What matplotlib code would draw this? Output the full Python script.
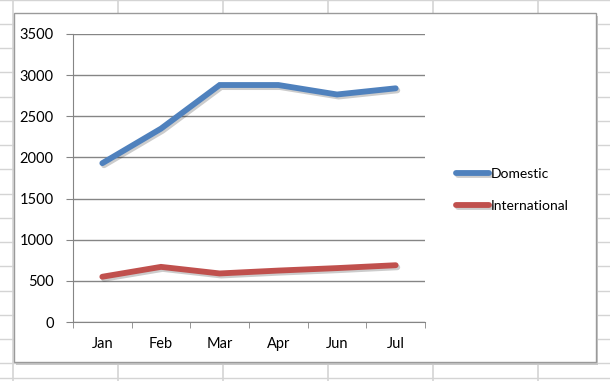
import matplotlib.pyplot as plt
import matplotlib.patheffects as pe
from matplotlib.lines import Line2D
from matplotlib.patches import Rectangle

months = ["Jan", "Feb", "Mar", "Apr", "Jun", "Jul"]
domestic = [1930, 2350, 2880, 2880, 2765, 2840]
international = [550, 670, 590, 625, 655, 690]
yticks = [0, 500, 1000, 1500, 2000, 2500, 3000, 3500]

W, H = 610, 381
fig = plt.figure(figsize=(W / 100, H / 100), dpi=100)
plt.rcParams['font.family'] = ['Lato', 'DejaVu Sans']

def fx(px):
    return px / W

def fy(py):
    return 1 - py / H

# spreadsheet cells behind the chart
grid_c = "#d4d4d4"
for x in [13, 118, 223, 328, 433, 538]:
    fig.add_artist(Line2D([fx(x), fx(x)], [0, 1], color=grid_c, lw=1.2, zorder=-3))
for y in [0, 24, 48, 72, 97, 121, 145, 169, 194, 218, 242, 266, 291, 315, 339, 363, 378]:
    fig.add_artist(Line2D([0, 1], [fy(y), fy(y)], color=grid_c, lw=1.0, zorder=-3))

# chart box
fig.add_artist(Rectangle((fx(16), fy(365)), fx(582), 349 / H, facecolor="#c8c8c8",
                         edgecolor="none", zorder=-2))
fig.add_artist(Rectangle((fx(14), fy(362)), fx(582), 349 / H, facecolor="white",
                         edgecolor="#9a9a9a", lw=1.0, zorder=-1))

ax = fig.add_axes([fx(73), fy(322), fx(425 - 73), (322 - 34) / H])
ax.set_facecolor("none")

x = range(len(months))
shadow = [pe.SimpleLineShadow(offset=(1.2, -1.5), shadow_color="#000000", alpha=0.2),
          pe.Normal()]
ax.plot(x, domestic, color="#4F81BD", lw=4.2, label="Domestic",
        solid_capstyle="round", solid_joinstyle="miter", path_effects=shadow)
ax.plot(x, international, color="#C0504D", lw=4.2, label="International",
        solid_capstyle="round", solid_joinstyle="miter", path_effects=shadow)

ax.set_xlim(-0.5, len(months) - 0.5)
ax.set_ylim(0, 3500)
ax.set_yticks(yticks)
ax.yaxis.grid(True, color="#858585", lw=1.0)
ax.set_axisbelow(True)
ax.set_xticks(x)
ax.set_xticklabels(months)
ax.set_xticks([i - 0.5 for i in range(len(months) + 1)], minor=True)
ax.tick_params(axis="x", which="major", length=0, pad=10.5, labelsize=10.5)
ax.tick_params(axis="x", which="minor", length=4, color="#858585", direction="out")
ax.tick_params(axis="y", length=5, color="#858585", pad=9, labelsize=10.5)
for s in ["top", "right"]:
    ax.spines[s].set_visible(False)
for s in ["left", "bottom"]:
    ax.spines[s].set_color("#858585")

ax.legend(loc="upper left", bbox_to_anchor=(fx(449), fy(161)), bbox_transform=fig.transFigure,
          frameon=False, handlelength=2.4, handletextpad=0.1, labelspacing=1.45,
          borderpad=0, fontsize=10)

fig.savefig("out.png", dpi=100)
